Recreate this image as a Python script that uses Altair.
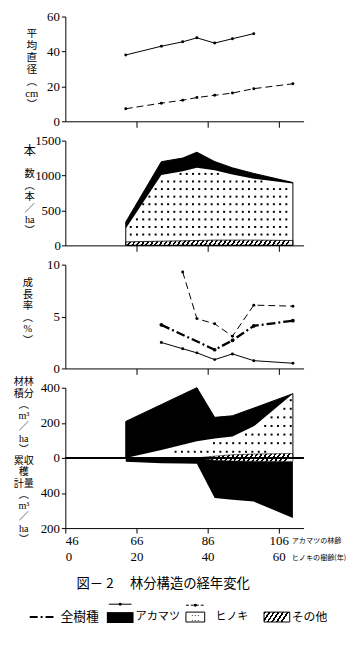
import altair as alt
import numpy as np
import pandas as pd

# ---------------- data ----------------
ages = [63, 73, 79, 83, 88, 93, 99, 110]          # アカマツの林齢
hinoki_offset = 46                                  # ヒノキの樹齢 = 林齢 - 46
x_ticks = [46, 66, 86, 106]

# 平均直径 (cm)
diam_ak_age = [63, 73, 79, 83, 88, 93, 99]
diam_ak = [38.0, 43.0, 45.5, 47.8, 44.8, 47.3, 50.2]
diam_hi = [7.2, 10.4, 12.1, 13.6, 14.9, 16.2, 18.7, 21.5]

# 本数 (本/ha)
n_ak = [95, 189, 190, 224, 125, 95, 75, 15]
n_hi = [190, 949, 995, 1040, 1000, 940, 880, 815]
n_ot = [50, 60, 65, 70, 75, 75, 75, 70]

# 成長率 (%)
gr_all_age = [73, 88, 93, 99, 110]
gr_all = [4.2, 1.8, 2.7, 4.1, 4.6]
gr_ak_age = [73, 79, 83, 88, 93, 99, 110]
gr_ak = [2.5, 1.9, 1.5, 0.85, 1.4, 0.75, 0.5]
gr_hi_age = [79, 83, 88, 93, 99, 110]
gr_hi = [9.3, 4.8, 4.3, 3.1, 6.1, 6.0]

# 林分材積 / 収穫量累計 (m3/ha)
vol_ak = [208, 259, 287, 305, 121, 118, 104, 0]
vol_hi = [0, 45, 75, 95, 100, 104, 158, 341]
vol_ot = [0, 0, 0, 0, 10, 18, 22, 25]
harv_ak = [22, 30, 32, 34, 215, 220, 230, 322]
harv_ot = [0, 0, 0, 0, 14, 18, 19, 20]

# ---------------- geometry / style ----------------
W = 241
X_DOM = [46, 113]
H1, H2, H3, H4 = 106, 106, 105, 142
PXY = W / (X_DOM[1] - X_DOM[0])
SERIF = "Liberation Serif"
JP = "Noto Sans CJK JP"
VT = "Liberation Serif, Noto Sans CJK JP"   # vertical axis titles


def hatch(wpx, hpx, k=1.5, period=4.6, frac=0.42):
    n = max(1, round(wpx / period))
    stops = []
    for i in range(n):
        a, b, c = i / n, (i + frac) / n, (i + 1) / n
        stops += [{"offset": a, "color": "black"}, {"offset": b, "color": "black"},
                  {"offset": b, "color": "white"}, {"offset": c, "color": "white"}]
    return {"gradient": "linear", "x1": 0, "y1": 0, "x2": 1,
            "y2": hpx / (k * wpx), "stops": stops}


def dot_grid(lo, hi, x0, dx, y0, dy, m_lo, m_hi, ymax):
    rows = []
    for x in np.arange(x0, ages[-1] - 0.3, dx):
        l = np.interp(x, ages, lo)
        h = np.interp(x, ages, hi)
        for y in np.arange(y0, ymax, dy):
            if l + m_lo < y < h - m_hi:
                rows.append({"age": x, "v": y})
    return pd.DataFrame(rows)


xscale = alt.Scale(domain=X_DOM, nice=False, zero=False)
ax_top = alt.Axis(values=[66, 86, 106], labels=False, tickSize=6, title=None)
ax_bot = alt.Axis(values=x_ticks, tickSize=5, title=None, labelPadding=2,
                  labelLineHeight=16,
                  labelExpr="[datum.label, '' + (datum.value - %d)]" % hinoki_offset)


def X(axis=ax_top):
    return alt.X("age:Q", scale=xscale, axis=axis)


one = pd.DataFrame({"k": [0]})


def txt(text, x, y, size=12.5, align="center", baseline="top", lh=None, font=JP):
    kw = dict(font=font, fontSize=size, align=align, baseline=baseline, color="black")
    if lh is not None:
        kw["lineHeight"] = lh
    return alt.Chart(one).mark_text(**kw).encode(
        x=alt.value(x), y=alt.value(y), text=alt.value(text))


def vtitle(lines, x, y, lh):
    return txt(lines, x, y, size=round(lh / 1.115, 2), lh=lh, font=VT)


# ---------------- panel 1: 平均直径 ----------------
ys1 = alt.Scale(domain=[0, 60], nice=False)
ay1 = alt.Axis(values=[0, 20, 40, 60], title=None, tickSize=4, labelPadding=2)
d_ak = pd.DataFrame({"age": diam_ak_age, "v": diam_ak})
d_hi = pd.DataFrame({"age": ages, "v": diam_hi})
Y1 = alt.Y("v:Q", scale=ys1, axis=ay1)
p1 = alt.layer(
    alt.Chart(d_ak).mark_line(color="black", strokeWidth=1).encode(x=X(), y=Y1),
    alt.Chart(d_ak).mark_point(filled=True, size=9, color="black", opacity=1).encode(x=X(), y=Y1),
    alt.Chart(d_hi).mark_line(color="black", strokeWidth=1, strokeDash=[7, 4]).encode(x=X(), y=Y1),
    alt.Chart(d_hi).mark_point(filled=True, size=9, color="black", opacity=1).encode(x=X(), y=Y1),
    vtitle(["平", "均", "直", "径", "︵", "cm", "︶"], -34, 12, 12.0),
).properties(width=W, height=H1)

# ---------------- panel 2: 本数 ----------------
ys2 = alt.Scale(domain=[0, 1500], nice=False)
ay2 = alt.Axis(values=[0, 500, 1000, 1500], title=None, tickSize=4, labelPadding=1, format="d")
df2 = pd.DataFrame({"age": ages, "z": 0, "ot": n_ot})
df2["hitop"] = df2["ot"] + np.array(n_hi)
df2["tot"] = df2["hitop"] + np.array(n_ak)
Y2 = lambda f: alt.Y(f + ":Q", scale=ys2, axis=ay2)
dots2 = dot_grid(list(df2["ot"]), list(df2["hitop"]), 64.4, 1.75, 155, 108.5, 40, 25, 1500)
hatch2 = hatch((ages[-1] - ages[0]) * PXY, max(n_ot) * H2 / 1500)
p2 = alt.layer(
    alt.Chart(df2).mark_area(color="black").encode(x=X(), y=Y2("hitop"), y2="tot:Q"),
    alt.Chart(dots2).mark_square(size=4, color="black", opacity=1).encode(
        x=X(), y=alt.Y("v:Q", scale=ys2, axis=ay2)),
    alt.Chart(df2).mark_area(fill=hatch2, stroke="black", strokeWidth=0.8).encode(
        x=X(), y=Y2("z"), y2="ot:Q"),
    alt.Chart(df2).mark_area(fillOpacity=0, stroke="black", strokeWidth=1).encode(
        x=X(), y=Y2("z"), y2="tot:Q"),
    txt("本", -36, 5, size=12.5, font=VT),
    vtitle(["数", "︵", "本", "／", "ha", "︶"], -36, 29, 11.6),
).properties(width=W, height=H2)

# ---------------- panel 3: 成長率 ----------------
ys3 = alt.Scale(domain=[0, 10], nice=False)
ay3 = alt.Axis(values=[0, 5, 10], title=None, tickSize=4, labelPadding=2)
Y3 = alt.Y("v:Q", scale=ys3, axis=ay3)
g_all = pd.DataFrame({"age": gr_all_age, "v": gr_all})
g_ak = pd.DataFrame({"age": gr_ak_age, "v": gr_ak})
g_hi = pd.DataFrame({"age": gr_hi_age, "v": gr_hi})
p3 = alt.layer(
    alt.Chart(g_hi).mark_line(color="black", strokeWidth=1, strokeDash=[7, 4]).encode(x=X(), y=Y3),
    alt.Chart(g_hi).mark_point(filled=True, size=9, color="black", opacity=1).encode(x=X(), y=Y3),
    alt.Chart(g_all).mark_line(color="black", strokeWidth=2.3, strokeDash=[9, 3, 2, 3]).encode(x=X(), y=Y3),
    alt.Chart(g_all).mark_point(filled=True, size=14, color="black", opacity=1).encode(x=X(), y=Y3),
    alt.Chart(g_ak).mark_line(color="black", strokeWidth=1).encode(x=X(), y=Y3),
    alt.Chart(g_ak).mark_point(filled=True, size=9, color="black", opacity=1).encode(x=X(), y=Y3),
    vtitle(["成", "長", "率", "︵", "%", "︶"], -38, 14, 11.6),
).properties(width=W, height=H3)

# ---------------- panel 4: 材積 / 収穫量累計 ----------------
ys4 = alt.Scale(domain=[-400, 400], nice=False)
ay4 = alt.Axis(values=[-400, -200, 0, 200, 400], title=None, tickSize=4, labelPadding=2,
               labelExpr="datum.value == -200 ? '400' : datum.value == -400 ? '200' : datum.label")
Y4 = lambda f: alt.Y(f + ":Q", scale=ys4, axis=ay4)
df4 = pd.DataFrame({"age": ages, "z": 0, "ot": vol_ot})
df4["hitop"] = df4["ot"] + np.array(vol_hi)
df4["tot"] = df4["hitop"] + np.array(vol_ak)
df4["hot"] = -np.array(harv_ot)
df4["htot"] = df4["hot"] - np.array(harv_ak)
dots4 = dot_grid(list(df4["ot"]), list(df4["hitop"]), 64.4, 1.8, 35, 49, 12, 22, 400)
start = max(i for i in range(len(ages)) if vol_ot[i] == 0 and harv_ot[i] == 0)
df4h = df4.iloc[start:]
hatch4 = hatch((ages[-1] - ages[start]) * PXY, (max(vol_ot) + max(harv_ot)) * H4 / 800)

legend_y = 232
p4 = alt.layer(
    alt.Chart(df4).mark_area(color="black").encode(x=X(ax_bot), y=Y4("hitop"), y2="tot:Q"),
    alt.Chart(df4).mark_area(color="black").encode(x=X(ax_bot), y=Y4("hot"), y2="htot:Q"),
    alt.Chart(dots4).mark_square(size=4, color="black", opacity=1).encode(
        x=X(ax_bot), y=alt.Y("v:Q", scale=ys4, axis=ay4)),
    alt.Chart(df4h).mark_area(fill=hatch4, stroke="black", strokeWidth=0.6).encode(
        x=X(ax_bot), y=Y4("hot"), y2="ot:Q"),
    alt.Chart(df4).mark_area(fillOpacity=0, stroke="black", strokeWidth=1).encode(
        x=X(ax_bot), y=Y4("z"), y2="tot:Q"),
    alt.Chart(df4).mark_rule(color="black", strokeWidth=1).encode(
        x=alt.value(0), x2=alt.value(W), y=Y4("z")),
    vtitle(["材林", "積分", "︵", "m³", "／", "ha", "︶", "累収", "　穫", "計量", "︵", "m³", "／", "ha", "︶"],
           -42, -10.5, 11.4),
    txt("アカマツの林齢", 229, 155, size=7.2, align="left", baseline="middle"),
    txt("ヒノキの樹齢(年)", 229, 172, size=7.2, align="left", baseline="middle"),
    txt("図－ 2　 林分構造の経年変化", 99, 199, size=13.5, baseline="middle"),
    # legend
    alt.Chart(one).mark_rule(color="black", strokeWidth=2, strokeDash=[8, 3, 2, 3]).encode(
        x=alt.value(-36), x2=alt.value(-9), y=alt.value(legend_y)),
    txt("全樹種", -5, legend_y, size=13, align="left", baseline="middle"),
    alt.Chart(one).mark_rect(color="black").encode(
        x=alt.value(42), x2=alt.value(69), y=alt.value(legend_y - 5), y2=alt.value(legend_y + 6)),
    alt.Chart(one).mark_rule(color="black", strokeWidth=1).encode(
        x=alt.value(44), x2=alt.value(67), y=alt.value(legend_y - 13)),
    alt.Chart(one).mark_point(filled=True, size=9, color="black", opacity=1).encode(
        x=alt.value(55.5), y=alt.value(legend_y - 13)),
    txt("アカマツ", 71, legend_y, size=11.3, align="left", baseline="middle"),
    alt.Chart(one).mark_rect(fill="white", stroke="black", strokeWidth=1).encode(
        x=alt.value(122), x2=alt.value(141), y=alt.value(legend_y - 5), y2=alt.value(legend_y + 5)),
    txt("•  •  •", 131.5, legend_y - 2.5, size=5, baseline="middle", font=SERIF),
    txt("•  •  •", 131.5, legend_y + 2.5, size=5, baseline="middle", font=SERIF),
    alt.Chart(one).mark_rule(color="black", strokeWidth=1, strokeDash=[3, 2]).encode(
        x=alt.value(122), x2=alt.value(141), y=alt.value(legend_y - 12)),
    alt.Chart(one).mark_point(filled=True, size=9, color="black", opacity=1).encode(
        x=alt.value(131.5), y=alt.value(legend_y - 12)),
    txt("ヒノキ", 152, legend_y, size=11, align="left", baseline="middle"),
    alt.Chart(one).mark_rect(fill=hatch(26, 10), stroke="black", strokeWidth=1).encode(
        x=alt.value(201), x2=alt.value(227), y=alt.value(legend_y - 5), y2=alt.value(legend_y + 5)),
    txt("その他", 229, legend_y, size=12, align="left", baseline="middle"),
).properties(width=W, height=H4)

chart = alt.vconcat(p1, p2, p3, p4, spacing=19.5, bounds="flush").properties(
    padding={"left": 5, "top": -1, "right": 5, "bottom": 5}
).configure_view(stroke=None).configure_axis(
    domainColor="black", tickColor="black", labelColor="black", labelFont=SERIF,
    labelFontSize=13, grid=False, domainWidth=1, tickWidth=1
)

chart.save("out.html", embed_options={"renderer": "svg", "actions": False})
